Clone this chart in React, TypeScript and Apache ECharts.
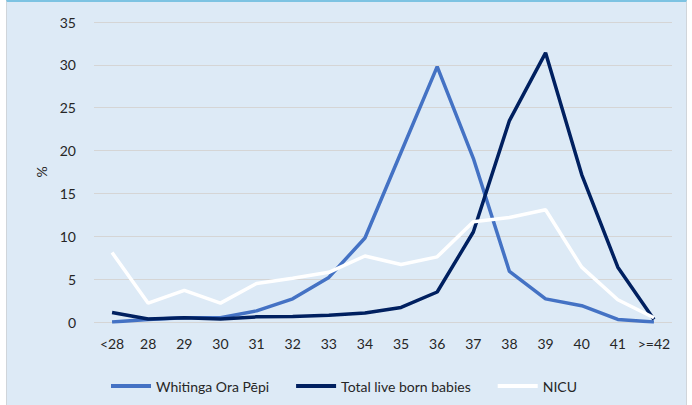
import React, { useEffect, useRef } from "react";
import * as echarts from "echarts";

const categories = ["<28", "28", "29", "30", "31", "32", "33", "34", "35", "36", "37", "38", "39", "40", "41", ">=42"];
const whitinga = [0, 0.3, 0.5, 0.5, 1.3, 2.7, 5.2, 9.8, 19.8, 29.8, 19.1, 5.9, 2.7, 1.9, 0.3, 0];
const totalLive = [1.1, 0.35, 0.5, 0.35, 0.6, 0.65, 0.8, 1.05, 1.7, 3.5, 10.5, 23.5, 31.4, 17.2, 6.4, 0.3];
const nicu = [8.1, 2.2, 3.7, 2.2, 4.5, 5.1, 5.8, 7.7, 6.7, 7.6, 11.7, 12.2, 13.1, 6.4, 2.6, 0.5];
const yTicks = { min: 0, max: 35, interval: 5 };

const FONT = "Lato, 'Noto Sans', sans-serif";

export default function App() {
  const ref = useRef<HTMLDivElement>(null);
  useEffect(() => {
    if (!ref.current) return;
    const chart = echarts.init(ref.current, null, { renderer: "svg" });
    chart.setOption({
      animation: false,
      backgroundColor: "transparent",
      textStyle: { fontFamily: FONT },
      grid: { left: 94, right: 20, top: 22, bottom: 83, containLabel: false },
      legend: {
        left: 106,
        top: 374,
        itemWidth: 40,
        itemHeight: 4,
        itemGap: 27,
        icon: "rect",
        textStyle: { fontFamily: FONT, fontSize: 14, color: "#262626" },
        data: ["Whitinga Ora Pēpi", "Total live born babies", "NICU"],
      },
      xAxis: {
        type: "category",
        data: categories,
        boundaryGap: true,
        axisLine: { show: false },
        axisTick: { show: false },
        axisLabel: { color: "#262626", fontSize: 14, margin: 14, interval: 0, fontFamily: FONT },
      },
      yAxis: {
        type: "value",
        min: yTicks.min,
        max: yTicks.max,
        interval: yTicks.interval,
        name: "%",
        nameLocation: "middle",
        nameRotate: 90,
        nameGap: 35,
        nameTextStyle: { color: "#262626", fontSize: 14, fontFamily: FONT },
        axisLine: { show: false },
        axisTick: { show: false },
        axisLabel: { color: "#262626", fontSize: 14, margin: 18, fontFamily: FONT },
        splitLine: { lineStyle: { color: "#D5D5D5", width: 1 } },
      },
      series: [
        {
          name: "Whitinga Ora Pēpi",
          type: "line",
          data: whitinga,
          symbol: "none",
          itemStyle: { color: "#4472C4" },
          lineStyle: { color: "#4472C4", width: 3.5 },
        },
        {
          name: "Total live born babies",
          type: "line",
          data: totalLive,
          symbol: "none",
          itemStyle: { color: "#002060" },
          lineStyle: { color: "#002060", width: 3.5 },
        },
        {
          name: "NICU",
          type: "line",
          data: nicu,
          symbol: "none",
          itemStyle: { color: "#FFFFFF" },
          lineStyle: { color: "#FFFFFF", width: 3.5 },
        },
      ],
    });
    return () => chart.dispose();
  }, []);
  return (
    <div style={{ position: "fixed", left: 0, top: 0, width: 692, height: 405, background: "#FFFFFF" }}>
      <div
        style={{
          position: "absolute",
          left: 6,
          top: 0,
          width: 681,
          height: 405,
          background: "#DDEAF6",
          borderTop: "2px solid #7DC3E2",
          borderLeft: "1px solid #D0D5DA",
          borderRight: "1px solid #D0D5DA",
          boxSizing: "border-box",
        }}
      >
        <div ref={ref} style={{ position: "absolute", left: -7, top: -2, width: 692, height: 405 }} />
      </div>
    </div>
  );
}
